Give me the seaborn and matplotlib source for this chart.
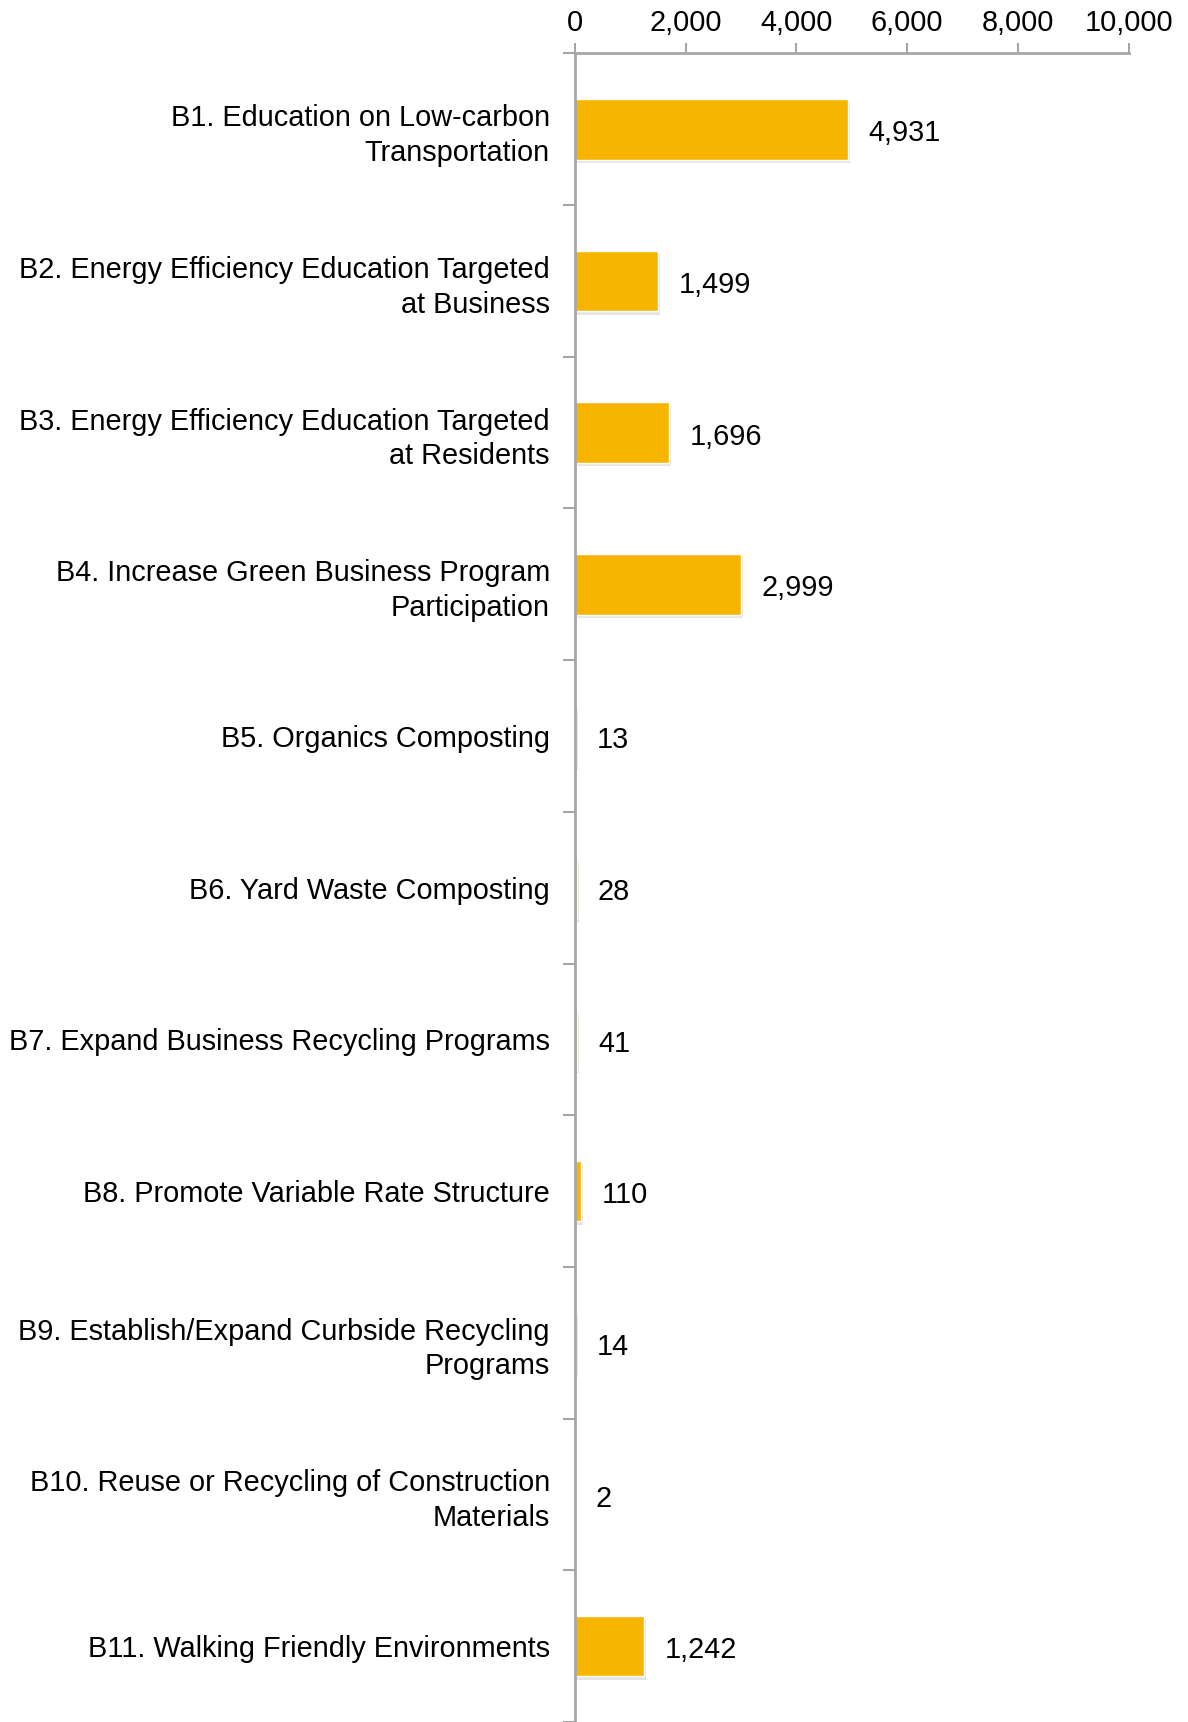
"""Horizontal bar chart of B-measure values"""
import seaborn as sns
import matplotlib.pyplot as plt
import matplotlib.patheffects as pe
import pandas as pd
from matplotlib.ticker import FuncFormatter, FixedLocator

categories = [
    'B1. Education on Low-carbon\nTransportation',
    'B2. Energy Efficiency Education Targeted\nat Business',
    'B3. Energy Efficiency Education Targeted\nat Residents',
    'B4. Increase Green Business Program\nParticipation',
    'B5. Organics Composting',
    'B6. Yard Waste Composting',
    'B7. Expand Business Recycling Programs',
    'B8. Promote Variable Rate Structure',
    'B9. Establish/Expand Curbside Recycling\nPrograms',
    'B10. Reuse or Recycling of Construction\nMaterials',
    'B11. Walking Friendly Environments',
]
values = [4931, 1499, 1696, 2999, 13, 28, 41, 110, 14, 2, 1242]
x_ticks = [0, 2000, 4000, 6000, 8000, 10000]

BAR = '#F8B500'
GREY = '#A6A6A6'
FS = 20.8

sns.set_theme(style='white')
plt.rcParams['font.family'] = ['Liberation Sans', 'DejaVu Sans']

df = pd.DataFrame({'Measure': categories, 'Value': values})

fig = plt.figure(figsize=(11.88, 17.22), dpi=100)
ax = fig.add_axes([0.484, 0.0, 0.466, 0.969])

sns.barplot(data=df, x='Value', y='Measure', orient='h', color=BAR,
            saturation=1, width=0.4, ax=ax)

for patch in ax.patches:
    patch.set_path_effects([pe.SimplePatchShadow(offset=(1.5, -2.5), shadow_rgbFace='#999999', alpha=0.25),
                            pe.Normal()])

for i, v in enumerate(values):
    ax.annotate(f'{v:,}', xy=(v, i), xytext=(15, -3), textcoords='offset points',
                va='center', ha='left', fontsize=FS, color='black')

ax.set_xlim(0, 10000)
ax.set_ylim(len(values) - 0.5, -0.5)
ax.xaxis.tick_top()
ax.set_xticks(x_ticks)
ax.xaxis.set_major_formatter(FuncFormatter(lambda x, p: f'{int(x):,}'))
ax.tick_params(axis='x', which='major', direction='out', length=7, width=1.5,
               color=GREY, labelsize=FS, pad=5, labelcolor='black')

ax.yaxis.set_minor_locator(FixedLocator([i - 0.5 for i in range(len(values) + 1)]))
ax.tick_params(axis='y', which='major', length=0, pad=18, labelsize=FS, labelcolor='black')
ax.tick_params(axis='y', which='minor', direction='out', length=9, width=1.5, color=GREY, left=True)
for lbl in ax.get_yticklabels():
    lbl.set_horizontalalignment('right')
    lbl.set_multialignment('right')
    lbl.set_linespacing(1.3)

ax.set_xlabel('')
ax.set_ylabel('')
for side in ['right', 'bottom']:
    ax.spines[side].set_visible(False)
for side in ['top', 'left']:
    ax.spines[side].set_color(GREY)
    ax.spines[side].set_linewidth(2)

fig.savefig('out.png', dpi=100)
plt.close(fig)
